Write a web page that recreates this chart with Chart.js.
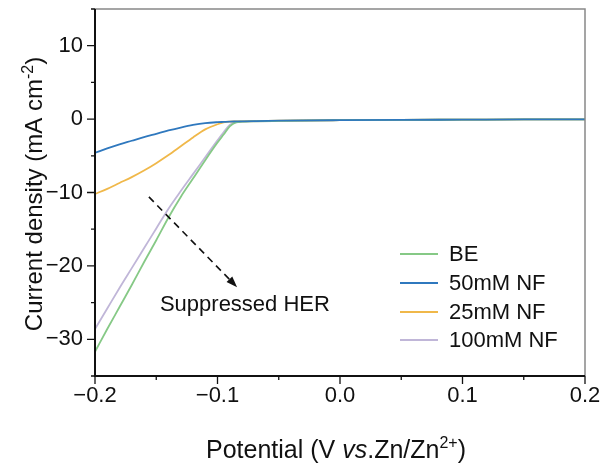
<!DOCTYPE html>
<html>
<head>
<meta charset="utf-8">
<script src="https://cdn.jsdelivr.net/npm/chart.js@4/dist/chart.umd.min.js"></script>
<style>
  html, body { margin: 0; padding: 0; background: #fff; overflow: hidden; }
  #wrap { width: 603px; height: 463px; }
</style>
</head>
<body>
<div id="wrap"><canvas id="lsv"></canvas></div>
<script>
// Potential (V vs. Zn/Zn2+) and current density (mA cm-2)
const potential = [-0.2, -0.19, -0.18, -0.17, -0.16, -0.15, -0.14, -0.13, -0.12, -0.11, -0.10, -0.095, -0.09, -0.085, -0.08, -0.07, -0.05, 0.0, 0.05, 0.1, 0.15, 0.2];
const beVals    = [-31.7, -28.6, -25.6, -22.6, -19.5, -16.5, -13.4, -10.6, -8.1, -5.6, -3.2, -2.1, -1.0, -0.45, -0.35, -0.3, -0.25, -0.15, -0.1, -0.08, -0.05, -0.05];
const nf50Vals  = [-4.6, -4.0, -3.45, -2.95, -2.45, -2.0, -1.55, -1.15, -0.8, -0.55, -0.42, -0.38, -0.34, -0.32, -0.3, -0.27, -0.22, -0.15, -0.1, -0.08, -0.05, -0.05];
const nf25Vals  = [-10.2, -9.5, -8.7, -7.9, -7.0, -6.0, -4.9, -3.7, -2.5, -1.4, -0.7, -0.45, -0.35, -0.32, -0.3, -0.27, -0.22, -0.15, -0.1, -0.08, -0.05, -0.05];
const nf100Vals = [-28.6, -25.8, -23.0, -20.3, -17.6, -14.9, -12.2, -9.8, -7.5, -5.2, -2.9, -1.8, -0.8, -0.45, -0.35, -0.3, -0.25, -0.15, -0.1, -0.08, -0.05, -0.05];

const seriesNames = ['BE', '50mM NF', '25mM NF', '100mM NF'];
const seriesColors = ['#86c986', '#2f78be', '#f0b84a', '#c0b6d8'];

const xTicks = [-0.2, -0.1, 0.0, 0.1, 0.2];
const xMinorTicks = [-0.15, -0.05, 0.05, 0.15];
const yTicks = [-30, -20, -10, 0, 10];
const yMinorTicks = [-35, -25, -15, -5, 5, 15];

// annotation: dashed arrow and its label (data units)
const arrowFrom = [-0.156, -10.6];
const arrowTo = [-0.084, -22.9];
const noteText = 'Suppressed HER';
const notePos = [-0.147, -26.1];

const FONT = '"Liberation Sans", Arial, sans-serif';
const MINUS = '\u2212';

function toPoints(vals) {
    return vals.map((v, i) => ({ x: potential[i], y: v }));
}

function fmt(str) {
    return str.replace('-', MINUS);
}

const allVals = [beVals, nf50Vals, nf25Vals, nf100Vals];

const datasets = seriesNames.map((name, i) => ({
    label: name,
    data: toPoints(allVals[i]),
    borderColor: seriesColors[i],
    borderWidth: 1.8,
    pointRadius: 0,
    fill: false,
    cubicInterpolationMode: 'monotone',
    order: i === 1 ? 0 : i + 1
}));

// frame, ticks, titles, legend and the arrow note
const decorations = {
    id: 'decorations',
    afterDraw(chart) {
        const ctx = chart.ctx;
        const area = chart.chartArea;
        const xs = chart.scales.x;
        const ys = chart.scales.y;
        ctx.save();

        // frame
        ctx.strokeStyle = '#888';
        ctx.lineWidth = 1.5;
        ctx.beginPath();
        ctx.moveTo(area.left, area.top);
        ctx.lineTo(area.right, area.top);
        ctx.lineTo(area.right, area.bottom);
        ctx.stroke();
        ctx.strokeStyle = '#111';
        ctx.lineWidth = 2;
        ctx.beginPath();
        ctx.moveTo(area.left, area.top);
        ctx.lineTo(area.left, area.bottom);
        ctx.lineTo(area.right, area.bottom);
        ctx.stroke();

        // tick marks
        ctx.lineWidth = 1.3;
        ctx.beginPath();
        xTicks.forEach(v => { const p = xs.getPixelForValue(v); ctx.moveTo(p, area.bottom); ctx.lineTo(p, area.bottom + 8); });
        xMinorTicks.forEach(v => { const p = xs.getPixelForValue(v); ctx.moveTo(p, area.bottom); ctx.lineTo(p, area.bottom + 4); });
        yTicks.forEach(v => { const p = ys.getPixelForValue(v); ctx.moveTo(area.left, p); ctx.lineTo(area.left - 8, p); });
        yMinorTicks.forEach(v => { const p = ys.getPixelForValue(v); ctx.moveTo(area.left, p); ctx.lineTo(area.left - 4, p); });
        ctx.stroke();

        ctx.fillStyle = '#111';
        ctx.textBaseline = 'alphabetic';

        // x axis title
        const xParts = [
            { t: 'Potential (V ', f: '25px ' + FONT, dy: 0 },
            { t: 'vs', f: 'italic 25px ' + FONT, dy: 0 },
            { t: '.Zn/Zn', f: '25px ' + FONT, dy: 0 },
            { t: '2+', f: '16px ' + FONT, dy: -10 },
            { t: ')', f: '25px ' + FONT, dy: 0 }
        ];
        drawParts(ctx, xParts, 336, 458);

        // y axis title, rotated
        const yParts = [
            { t: 'Current density (mA cm', f: '24px ' + FONT, dy: 0 },
            { t: '-2', f: '16px ' + FONT, dy: -9 },
            { t: ')', f: '24px ' + FONT, dy: 0 }
        ];
        ctx.save();
        ctx.translate(42, 194);
        ctx.rotate(-Math.PI / 2);
        drawParts(ctx, yParts, 0, 0);
        ctx.restore();

        // legend
        ctx.font = '22px ' + FONT;
        ctx.textBaseline = 'middle';
        const legendY = [254, 283, 312, 340];
        seriesNames.forEach((name, i) => {
            ctx.strokeStyle = seriesColors[i];
            ctx.lineWidth = 2;
            ctx.beginPath();
            ctx.moveTo(400, legendY[i]);
            ctx.lineTo(438, legendY[i]);
            ctx.stroke();
            ctx.fillStyle = '#111';
            ctx.fillText(name, 449, legendY[i] + 1);
        });

        // dashed arrow
        const x0 = xs.getPixelForValue(arrowFrom[0]), y0 = ys.getPixelForValue(arrowFrom[1]);
        const x1 = xs.getPixelForValue(arrowTo[0]), y1 = ys.getPixelForValue(arrowTo[1]);
        const ang = Math.atan2(y1 - y0, x1 - x0);
        const headLen = 11;
        ctx.strokeStyle = '#111';
        ctx.lineWidth = 1.6;
        ctx.setLineDash([7, 5]);
        ctx.beginPath();
        ctx.moveTo(x0, y0);
        ctx.lineTo(x1 - headLen * Math.cos(ang), y1 - headLen * Math.sin(ang));
        ctx.stroke();
        ctx.setLineDash([]);
        ctx.fillStyle = '#111';
        ctx.beginPath();
        ctx.moveTo(x1, y1);
        ctx.lineTo(x1 - headLen * Math.cos(ang) + 4 * Math.sin(ang), y1 - headLen * Math.sin(ang) - 4 * Math.cos(ang));
        ctx.lineTo(x1 - headLen * Math.cos(ang) - 4 * Math.sin(ang), y1 - headLen * Math.sin(ang) + 4 * Math.cos(ang));
        ctx.closePath();
        ctx.fill();

        ctx.font = '22px ' + FONT;
        ctx.textBaseline = 'alphabetic';
        ctx.textAlign = 'left';
        ctx.fillText(noteText, xs.getPixelForValue(notePos[0]), ys.getPixelForValue(notePos[1]));

        ctx.restore();
    }
};

function drawParts(ctx, parts, cx, baseY) {
    let total = 0;
    parts.forEach(p => { ctx.font = p.f; p.w = ctx.measureText(p.t).width; total += p.w; });
    let x = cx - total / 2;
    ctx.textAlign = 'left';
    parts.forEach(p => {
        ctx.font = p.f;
        ctx.fillText(p.t, x, baseY + p.dy);
        x += p.w;
    });
}

function noScalePadding(s) {
    s.paddingTop = 0;
    s.paddingBottom = 0;
    s.paddingLeft = 0;
    s.paddingRight = 0;
}

new Chart(document.getElementById('lsv'), {
    type: 'line',
    data: { datasets: datasets },
    options: {
        responsive: true,
        maintainAspectRatio: false,
        animation: false,
        layout: { padding: { left: 0, top: 9, right: 18, bottom: 0 } },
        plugins: {
            legend: { display: false },
            tooltip: { enabled: false }
        },
        scales: {
            x: {
                type: 'linear',
                min: -0.2,
                max: 0.2,
                afterFit: s => { s.height = 87; noScalePadding(s); },
                afterBuildTicks: s => { s.ticks = xTicks.map(v => ({ value: v })); },
                grid: { display: false, drawTicks: false },
                border: { display: false },
                ticks: {
                    color: '#111',
                    padding: 7,
                    maxRotation: 0,
                    font: { family: FONT, size: 22 },
                    callback: v => fmt(v.toFixed(1))
                }
            },
            y: {
                min: -35,
                max: 15,
                afterFit: s => { s.width = 95; noScalePadding(s); },
                afterBuildTicks: s => { s.ticks = yTicks.map(v => ({ value: v })); },
                grid: { display: false, drawTicks: false },
                border: { display: false },
                ticks: {
                    color: '#111',
                    padding: 12,
                    font: { family: FONT, size: 22 },
                    callback: v => fmt(String(v))
                }
            }
        }
    },
    plugins: [decorations]
});
</script>
</body>
</html>
